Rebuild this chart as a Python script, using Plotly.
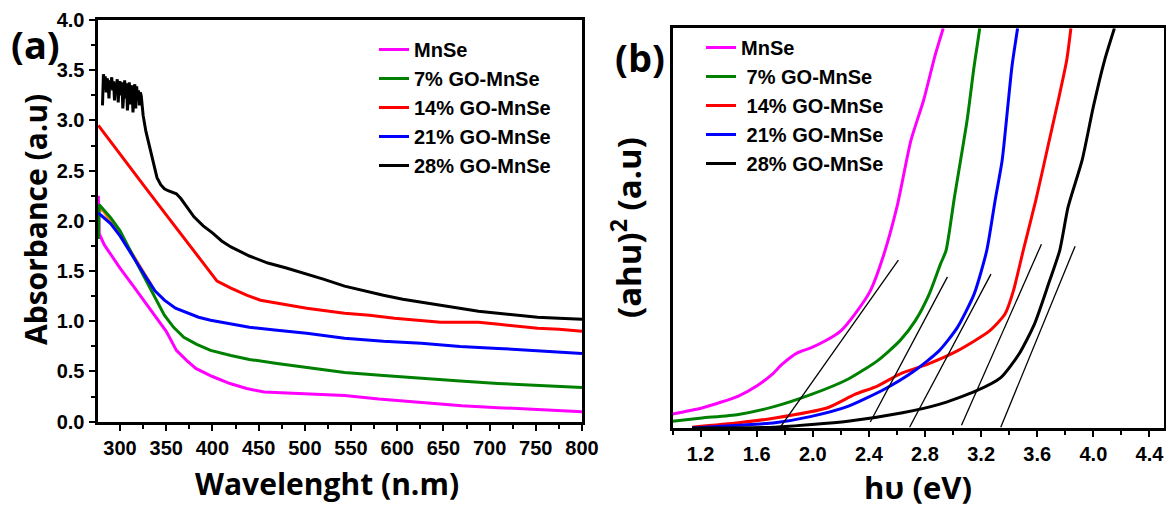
import plotly.graph_objects as go

W, H = 1166, 508

# ---------------- Panel (a): absorbance vs wavelength ----------------
wl_mnse = [276.5, 277.5, 283, 291, 300, 316, 336, 350, 361, 372, 382, 400, 419, 437, 456,
           500, 543, 580, 626, 670, 709, 750, 800]
abs_mnse = [2.25, 1.87, 1.76, 1.65, 1.53, 1.33, 1.08, 0.90, 0.71, 0.61, 0.53, 0.45, 0.38,
            0.33, 0.295, 0.28, 0.26, 0.225, 0.19, 0.16, 0.14, 0.12, 0.10]

wl_7 = [276.5, 277.5, 290, 300, 309, 320, 336, 348, 358, 369, 383, 398, 420, 440, 470,
        502, 543, 585, 626, 668, 709, 750, 800]
abs_7 = [1.82, 2.16, 2.03, 1.90, 1.74, 1.55, 1.28, 1.06, 0.94, 0.84, 0.77, 0.71, 0.66,
         0.62, 0.58, 0.54, 0.49, 0.46, 0.43, 0.405, 0.38, 0.36, 0.34]

wl_14 = [276.5, 300, 325, 350, 375, 390, 405, 420, 437, 452, 475, 502, 543, 570, 597,
         625, 647, 668, 688, 710, 730, 752, 775, 800]
abs_14 = [2.95, 2.67, 2.36, 2.06, 1.76, 1.57, 1.40, 1.33, 1.26, 1.21, 1.17, 1.13, 1.08,
          1.06, 1.03, 1.01, 0.99, 0.99, 0.99, 0.97, 0.95, 0.93, 0.92, 0.90]

wl_21 = [276.5, 290, 300, 310, 320, 328, 338, 348, 360, 373, 385, 398, 420, 440, 470,
         502, 543, 585, 626, 668, 709, 750, 800]
abs_21 = [2.08, 1.97, 1.85, 1.70, 1.55, 1.44, 1.30, 1.21, 1.13, 1.08, 1.04, 1.01, 0.97,
          0.94, 0.91, 0.88, 0.83, 0.80, 0.78, 0.75, 0.73, 0.71, 0.68]

wl_28 = [281, 282, 283, 284, 285, 286, 287, 288, 289, 290, 291, 292, 293, 294, 295, 296,
         297, 298, 299, 300, 301, 302, 303, 304, 305, 306, 307, 308, 309, 310, 311, 312,
         313, 314, 315, 316, 317, 318, 319, 320, 321, 322, 323, 325, 328, 331, 334, 337,
         340, 344, 348, 352, 356, 361, 366, 373, 380, 390, 400, 410, 420, 440, 460, 480,
         502, 520, 543, 565, 585, 606, 626, 647, 668, 688, 709, 730, 752, 775, 800]
abs_28 = [3.15, 3.46, 3.40, 3.44, 3.28, 3.42, 3.38, 3.22, 3.40, 3.36, 3.43, 3.30, 3.39,
          3.20, 3.37, 3.34, 3.41, 3.18, 3.36, 3.39, 3.25, 3.38, 3.12, 3.35, 3.40, 3.22,
          3.37, 3.10, 3.33, 3.38, 3.16, 3.35, 3.30, 3.08, 3.32, 3.36, 3.12, 3.34, 3.20,
          3.30, 3.15, 3.28, 3.24, 3.05, 2.89, 2.78, 2.68, 2.55, 2.43, 2.36, 2.32, 2.30,
          2.29, 2.27, 2.22, 2.13, 2.04, 1.95, 1.88, 1.80, 1.74, 1.65, 1.58, 1.53, 1.47,
          1.42, 1.35, 1.30, 1.26, 1.22, 1.19, 1.16, 1.13, 1.10, 1.08, 1.06, 1.04, 1.03, 1.02]

# short extra (unlabelled) orange trace visible at the start of the spectra
wl_extra = [276.5, 282, 290, 300, 310, 320, 330, 334]
abs_extra = [2.12, 2.10, 1.99, 1.86, 1.72, 1.57, 1.42, 1.36]

# ---------------- Panel (b): Tauc plot ----------------
ev_mnse = [1.0, 1.21, 1.47, 1.60, 1.71, 1.78, 1.89, 1.99, 2.10, 2.20, 2.30, 2.41, 2.50,
           2.60, 2.70, 2.79, 2.87, 2.93]
t_mnse = [3.5, 5.0, 8.0, 10.5, 13.4, 15.9, 18.8, 20.1, 22.0, 24.3, 28.5, 34.3, 42.7,
          55.3, 72.0, 82.0, 93.0, 100.0]

ev_7 = [1.0, 1.21, 1.47, 1.73, 1.99, 2.25, 2.46, 2.62, 2.73, 2.83, 2.91, 2.95, 3.01,
        3.10, 3.15, 3.19]
t_7 = [1.7, 2.5, 3.4, 5.4, 8.4, 12.2, 16.8, 21.8, 26.8, 33.5, 41.0, 44.4, 57.8, 77.0,
       90.5, 100.0]

ev_14 = [1.14, 1.47, 1.73, 2.10, 2.30, 2.46, 2.62, 2.82, 3.03, 3.26, 3.37, 3.43, 3.50,
         3.59, 3.67, 3.75, 3.81, 3.84]
t_14 = [0.2, 1.3, 2.5, 5.0, 8.4, 10.5, 13.5, 16.0, 19.3, 24.3, 28.5, 34.3, 44.4, 57.0,
        69.5, 82.0, 92.0, 100.0]

ev_21 = [1.14, 1.47, 1.73, 1.99, 2.25, 2.51, 2.72, 2.90, 3.03, 3.15, 3.24, 3.30, 3.35,
         3.39, 3.42, 3.46]
t_21 = [0.0, 0.7, 1.3, 2.9, 5.4, 9.7, 14.2, 19.3, 25.1, 33.5, 44.4, 57.0, 67.0, 80.4,
        90.5, 100.0]

ev_28 = [1.14, 1.73, 2.25, 2.64, 2.90, 3.16, 3.34, 3.47, 3.58, 3.68, 3.76, 3.82, 3.92,
         4.00, 4.08, 4.15]
t_28 = [0.0, 0.2, 1.7, 3.8, 5.9, 9.2, 12.6, 18.5, 26.0, 36.0, 44.4, 55.3, 67.0, 80.4,
        92.0, 100.0]

# linear extrapolation (band-gap) lines: start and end points
tan_x0 = [1.77, 2.41, 2.69, 3.06, 3.34]
tan_y0 = [0.3, 1.5, 0.2, 0.7, 0.2]
tan_x1 = [2.61, 2.96, 3.27, 3.63, 3.87]
tan_y1 = [42.0, 37.8, 38.5, 46.0, 45.5]

names_a = ["MnSe", "7% GO-MnSe", "14% GO-MnSe", "21% GO-MnSe", "28% GO-MnSe"]
names_b = ["MnSe", "\u00a07% GO-MnSe", "\u00a014% GO-MnSe", "\u00a021% GO-MnSe", "\u00a028% GO-MnSe"]
colors = ["#FF00FF", "#008000", "#FF0000", "#0000FF", "#000000"]
extra_color = "#FF8000"

TICK_FONT = dict(family="Arial, Liberation Sans, sans-serif", size=20, color="black", weight="bold")
LEG_FONT = dict(family="Arial, Liberation Sans, sans-serif", size=20, color="black", weight="bold")
TITLE_A = dict(family="Open Sans, DejaVu Sans, sans-serif", size=30, color="black", weight="bold")
TITLE_B = dict(family="Open Sans, DejaVu Sans, sans-serif", size=33, color="black", weight="bold")
TITLE_BX = dict(family="Open Sans, DejaVu Sans, sans-serif", size=31, color="black", weight="bold")
PANEL_FONT = dict(family="Open Sans, DejaVu Sans, sans-serif", size=38, color="black", weight="bold")

fig = go.Figure()

# panel (a) traces
fig.add_trace(go.Scatter(x=wl_extra, y=abs_extra, mode="lines", line=dict(color=extra_color, width=3),
                         showlegend=False, xaxis="x", yaxis="y", hoverinfo="skip"))
order_a = [(wl_mnse, abs_mnse), (wl_7, abs_7), (wl_14, abs_14), (wl_21, abs_21), (wl_28, abs_28)]
for (xs, ys), nm, c in zip(order_a, names_a, colors):
    fig.add_trace(go.Scatter(x=xs, y=ys, mode="lines", name=nm, line=dict(color=c, width=3),
                             xaxis="x", yaxis="y", legend="legend"))

# panel (b) traces
order_b = [(ev_mnse, t_mnse), (ev_7, t_7), (ev_14, t_14), (ev_21, t_21), (ev_28, t_28)]
for (xs, ys), nm, c in zip(order_b, names_b, colors):
    fig.add_trace(go.Scatter(x=xs, y=ys, mode="lines", name=nm,
                             line=dict(color=c, width=3, shape="spline", smoothing=0.6),
                             xaxis="x2", yaxis="y2", legend="legend2"))
for x0, y0, x1, y1 in zip(tan_x0, tan_y0, tan_x1, tan_y1):
    fig.add_trace(go.Scatter(x=[x0, x1], y=[y0, y1], mode="lines", line=dict(color="black", width=1.3),
                             showlegend=False, xaxis="x2", yaxis="y2", hoverinfo="skip"))

axis_common = dict(showline=True, linewidth=3, linecolor="black", mirror=True, showgrid=False,
                   zeroline=False, ticks="outside", ticklen=6, tickwidth=2, tickcolor="black",
                   tickfont=TICK_FONT, automargin=False)

fig.update_layout(
    width=W, height=H,
    margin=dict(l=0, r=0, t=0, b=0, autoexpand=False),
    paper_bgcolor="white", plot_bgcolor="white",
    xaxis=dict(domain=[97.5 / W, 582 / W], range=[275.6, 800], tick0=300, dtick=50,
               minor=dict(dtick=25, ticks="outside", ticklen=4, tickwidth=2, tickcolor="black"),
               anchor="y", **axis_common),
    yaxis=dict(domain=[1 - 421.7 / H, 1 - 20 / H], range=[0, 4], tick0=0, dtick=0.5,
               tickformat=".1f",
               minor=dict(dtick=0.25, ticks="outside", ticklen=4, tickwidth=2, tickcolor="black"),
               anchor="x", **axis_common),
    xaxis2=dict(domain=[672.5 / W, 1163.5 / W], range=[1.0, 4.5], tick0=1.2, dtick=0.4,
                tickformat=".1f",
                minor=dict(dtick=0.2, ticks="outside", ticklen=4, tickwidth=2, tickcolor="black"),
                anchor="y2", **axis_common),
    yaxis2=dict(domain=[1 - 428 / H, 1 - 28.3 / H], range=[0, 100], showline=True, linewidth=3,
                linecolor="black", mirror=True, showgrid=False, zeroline=False, ticks="",
                showticklabels=False, anchor="x2", automargin=False),
    legend=dict(x=374 / W, y=1 - 30 / H, xanchor="left", yanchor="top", bgcolor="rgba(0,0,0,0)",
                font=LEG_FONT, tracegroupgap=0),
    legend2=dict(x=701 / W, y=1 - 28 / H, xanchor="left", yanchor="top", bgcolor="rgba(0,0,0,0)",
                 font=LEG_FONT, tracegroupgap=0),
    showlegend=True,
)

ann = [
    dict(text="(a)", x=35 / W, y=1 - 44 / H, font=PANEL_FONT),
    dict(text="(b)", x=640 / W, y=1 - 57 / H, font=PANEL_FONT),
    dict(text="Absorbance (a.u)", x=35 / W, y=1 - 220 / H, textangle=-90, font=TITLE_A),
    dict(text="Wavelenght (n.m)", x=327 / W, y=1 - 483 / H, font=TITLE_A),
    dict(text="(ahu)<sup>2</sup> (a.u)", x=626 / W, y=1 - 228 / H, textangle=-90, font=TITLE_B),
    dict(text="h\u03c5 (eV)", x=918 / W, y=1 - 487 / H, font=TITLE_BX),
]
for a in ann:
    fig.add_annotation(xref="paper", yref="paper", showarrow=False, xanchor="center",
                       yanchor="middle", **a)

# remove the default page margin so the 1166x508 figure fills the window exactly
fig.write_html("out.html", config={"displayModeBar": False},
               post_script="document.body.style.margin='0';document.body.style.overflow='hidden';")
